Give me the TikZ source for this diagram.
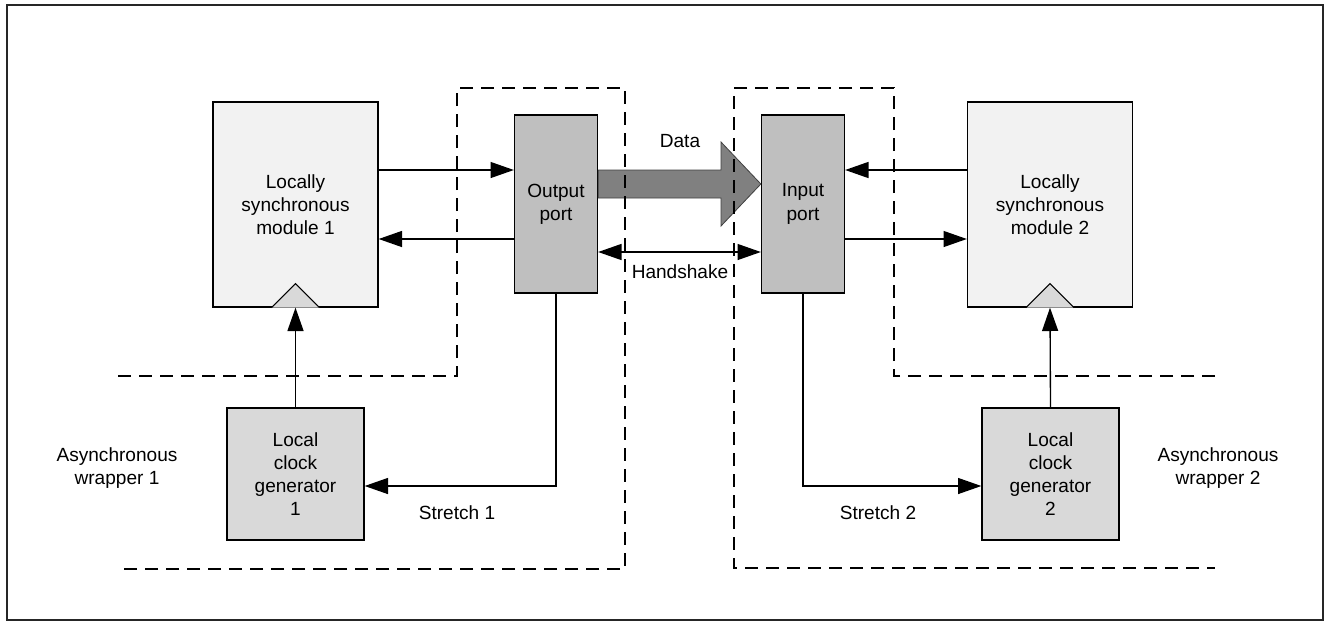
\documentclass[tikz,border=0pt]{standalone}
\usepackage{fontspec}
\setmainfont{Liberation Sans}
\usetikzlibrary{arrows.meta,positioning,calc}

\begin{document}
\begin{tikzpicture}[x=0.75pt, y=-0.75pt, >={Triangle[length=17.5pt, width=12pt]},
  every node/.style={font=\fontsize{14.3}{17.4}\selectfont, align=center},
  module/.style={draw, line width=1pt, fill=black!5, inner sep=0pt,
    minimum width=123.75pt, minimum height=153.75pt},
  port/.style={draw, line width=1pt, fill=black!25, inner sep=0pt,
    minimum width=62.25pt, minimum height=133.5pt},
  clkgen/.style={draw, line width=1pt, fill=black!15, inner sep=0pt,
    minimum width=102.75pt, minimum height=99pt},
  sig/.style={->, line width=1pt},
  wrap/.style={line width=1pt, dash pattern=on 9.75pt off 6pt},
  clktri/.style={draw, line width=0.8pt, fill=black!15},
  dataarrow/.style={draw=black!75, line width=0.6pt, fill=black!50}]
  \useasboundingbox (0,0) rectangle (1327,622);

  % Frame
  \draw[line width=1.3pt, black!85] (7,5) rectangle (1323,620);

  % Blocks
  \node[module] (mod1) at (295.5,204.5) {Locally\\synchronous\\module 1};
  \node[module] (mod2) at (1050,204.5) {Locally\\synchronous\\module 2};
  \node[port] (outp) at (556,204) {Output\\port};
  \node[port] (inp) at (803,204) {Input\\port};
  \node[clkgen] (clk1) at (295.5,474) {Local\\clock\\generator\\1};
  \node[clkgen] (clk2) at (1050.5,474) {Local\\clock\\generator\\2};

  % Clock inputs
  \draw[clktri] ($(mod1.south)+(-24,0)$) -- ++(24,-24) -- ++(24,24);
  \draw[clktri] ($(mod2.south)+(-24,0)$) -- ++(24,-24) -- ++(24,24);
  \draw[sig] (clk1.north) -- (mod1.south);
  \draw[sig] (clk2.north) -- (mod2.south);

  % Module <-> port signals
  \draw[sig] (mod1.east |- 0,170) -- (outp.west |- 0,170);
  \draw[sig] (outp.west |- 0,239) -- (mod1.east |- 0,239);
  \draw[sig] (mod2.west |- 0,170) -- (inp.east |- 0,170);
  \draw[sig] (inp.east |- 0,239) -- (mod2.west |- 0,239);

  % Data and handshake
  \draw[dataarrow] (outp.east |- 0,170) -- (721,170) -- (721,142)
    -- (inp.west |- 0,184) -- (721,226) -- (721,198) -- (outp.east |- 0,198) -- cycle;
  \node (data) at (680,141) {Data};
  \draw[sig, <->] (outp.east |- 0,252) -- (inp.west |- 0,252);
  \node (hs) at (680,272) {Handshake};

  % Stretch
  \draw[sig] (outp.south) |- (clk1.east |- 0,486);
  \draw[sig] (inp.south) |- (clk2.west |- 0,486);
  \node (st1) at (457,513) {Stretch 1};
  \node (st2) at (878,513) {Stretch 2};

  % Wrappers
  \draw[wrap] (118,376) -- (457,376) -- (457,88) -- (625,88) -- (625,569) -- (118,569);
  \draw[wrap] (1215,376) -- (894,376) -- (894,88) -- (734,88) -- (734,568) -- (1215,568);
  \node (aw1) at (117,468) {Asynchronous\\wrapper 1};
  \node (aw2) at (1218,468) {Asynchronous\\wrapper 2};
\end{tikzpicture}
\end{document}
